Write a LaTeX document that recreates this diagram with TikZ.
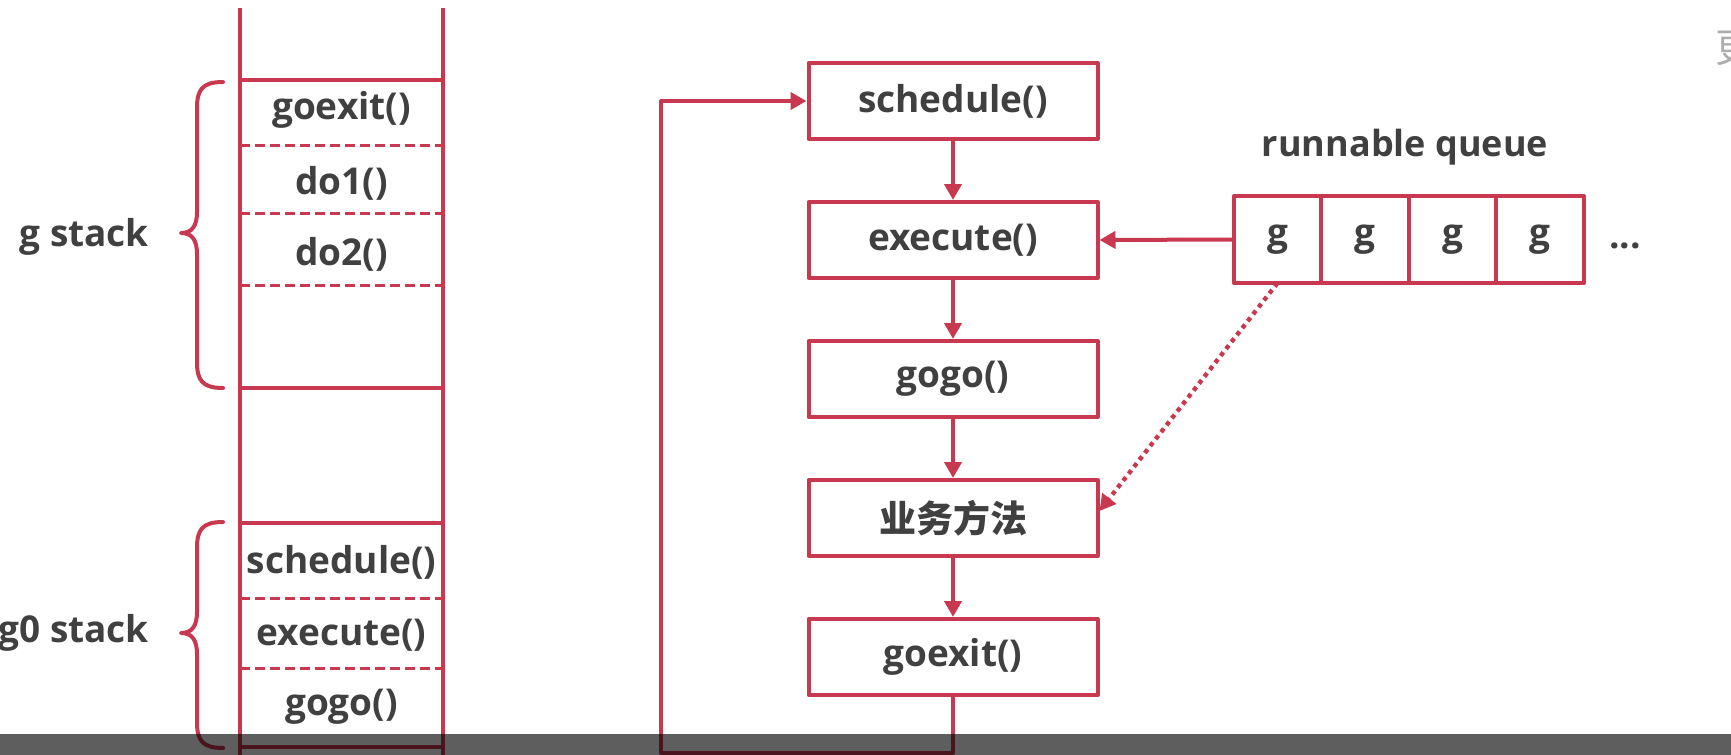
\documentclass[tikz,border=0pt]{standalone}
\usepackage{fontspec}
\setmainfont{Open Sans}
\newfontfamily\cjk{Noto Sans CJK SC}
\usetikzlibrary{positioning,arrows.meta}
\definecolor{gored}{RGB}{200,56,78}
\definecolor{gotext}{RGB}{64,64,64}

\begin{document}
\begin{tikzpicture}[x=0.5pt,y=-0.5pt,line join=round,
	>={Triangle[length=8pt,width=8.5pt]},
	fnt/.style={text=gotext,font=\fontsize{18.5}{22}\selectfont\bfseries},
	box/.style={fnt,draw=gored,line width=2pt,minimum width=144.5pt,minimum height=38pt},
	cell/.style={fnt,draw=gored,line width=2pt,outer sep=0pt,minimum width=43.75pt,minimum height=43.5pt},
	flow/.style={draw=gored,line width=2pt,->},
	stk/.style={draw=gored,line width=2pt},
	sep/.style={draw=gored,line width=1.5pt,dash pattern=on 5pt off 2.5pt},
	brc/.style={draw=gored,line width=2pt,line cap=round}]
	\useasboundingbox (0,0) rectangle (1731,755);

	% stacks
	\draw[stk] (240,8)--(240,755);
	\draw[stk] (443,8)--(443,755);
	\draw[stk] (240,80)--(443,80);
	\draw[sep] (240,145)--(443,145);
	\draw[sep] (240,213)--(443,213);
	\draw[sep] (240,285)--(443,285);
	\draw[stk] (240,388)--(443,388);
	\draw[stk] (240,523)--(443,523);
	\draw[sep] (240,598)--(443,598);
	\draw[sep] (240,668)--(443,668);
	\draw[stk] (240,747)--(443,747);
	\node[fnt] (sgoexit) at (341.5,110) {goexit()};
	\node[fnt] (sdo1) at (341.5,183) {do1()};
	\node[fnt] (sdo2) at (341.5,254) {do2()};
	\node[fnt] (ssched) at (341.5,562) {schedule()};
	\node[fnt] (sexec) at (341.5,635) {execute()};
	\node[fnt] (sgogo) at (341.5,707) {gogo()};

	\draw[brc] (223,82) .. controls (202,82) and (197,90) .. (197,108) -- (197,212) .. controls (197,226) and (192,233) .. (181,233) .. controls (192,233) and (197,240) .. (197,254) -- (197,362) .. controls (197,380) and (202,388) .. (223,388);
	\draw[brc] (223,522) .. controls (202,522) and (197,530) .. (197,548) -- (197,612) .. controls (197,626) and (192,633) .. (181,633) .. controls (192,633) and (197,640) .. (197,654) -- (197,722) .. controls (197,740) and (202,748) .. (223,748);
	\node[fnt,anchor=east] (gstk) at (156,237) {g stack};
	\node[fnt,anchor=east] (g0stk) at (156,633) {g0 stack};

	% flow
	\node[box] (sched) at (953,101) {schedule()};
	\node[box,below=29.5pt of sched] (exec) {execute()};
	\node[box,below=29.5pt of exec] (gogo) {gogo()};
	\node[box,below=29.5pt of gogo] (biz) {\cjk\bfseries 业务方法};
	\node[box,below=29.5pt of biz] (exit) {goexit()};
	\draw[flow] (sched) -- (exec);
	\draw[flow] (exec) -- (gogo);
	\draw[flow] (gogo) -- (biz);
	\draw[flow] (biz) -- (exit);
	\coordinate (loopbot) at (661,753);
	\draw[flow] (exit.south) |- (loopbot) |- (sched.west);

	% runnable queue
	\node[cell] (q1) at (1277.5,239.5) {g};
	\node[cell,right=0pt of q1] (q2) {g};
	\node[cell,right=0pt of q2] (q3) {g};
	\node[cell,right=0pt of q3] (q4) {g};
	\node[fnt] (dots) at (1625,246) {...};
	\node[fnt,font=\fontsize{18}{22}\selectfont\bfseries] (rq) at (1405,147) {runnable queue};
	\draw[flow] (q1.west) -- (exec.east);
	\draw[flow,line width=2.2pt,dash pattern=on 2.2pt off 2.2pt] (q1.south) -- ([yshift=3.5pt]biz.east);

	\node[anchor=west,text=black!32,font=\fontsize{20}{24}\selectfont] (more) at (1708,48) {\cjk 更};
	\fill[black,opacity=0.63] (0,734) rectangle (1731,755);
\end{tikzpicture}
\end{document}
